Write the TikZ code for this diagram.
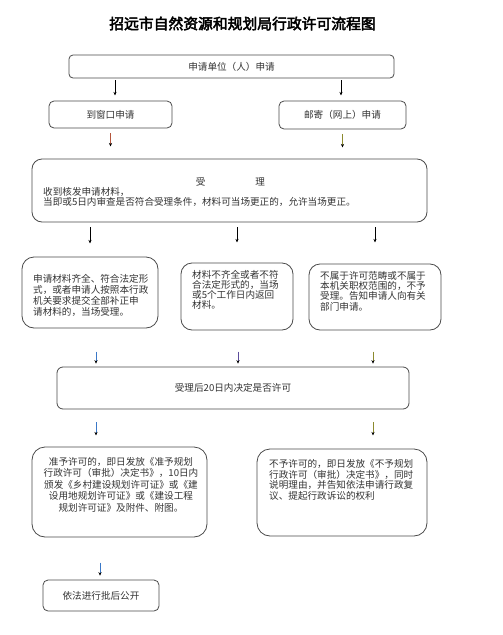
\documentclass[tikz,border=0pt]{standalone}
\usepackage{fontspec}
\setmainfont{Noto Sans CJK SC}
\newfontfamily\titulofont{Noto Sans CJK SC}[FakeBold=3]
\usetikzlibrary{arrows.meta,positioning,calc}
\definecolor{borde}{HTML}{4A4A4A}
\definecolor{texto}{HTML}{333333}
\definecolor{flrojo}{HTML}{B4553C}
\definecolor{flolivo}{HTML}{8C8A2E}
\definecolor{flazul}{HTML}{3A78C8}
\definecolor{flmorado}{HTML}{5C4C9C}
\tikzset{
  caja/.style    = {draw=borde, line width=0.8pt, inner sep=0pt, text=texto,
                    font=\fontsize{9.6}{11}\selectfont},
  parrafo/.style = {inner sep=0pt, align=left, anchor=north west, text=texto},
  flecha/.style  = {-{Stealth[length=3.5pt,width=3.2pt,black]}, line width=0.8pt},
}
\begin{document}
\begin{tikzpicture}[x=1pt, y=-1pt]
  \useasboundingbox[fill=white] (0,0) rectangle (503,635);
  \node[font=\titulofont\fontsize{14.8}{16}\selectfont] (titulo) at (242.5,23.5) {招远市自然资源和规划局行政许可流程图};

  % solicitud
  \node[caja, minimum width=325, minimum height=23, rounded corners=4] (solicitud) at (231.5,66.5) {申请单位（人）申请};
  \node[caja, minimum width=123, minimum height=27, rounded corners=5] (ventanilla) at (110.5,114.5) {到窗口申请};
  \node[caja, minimum width=127, minimum height=28, rounded corners=5] (correo) at (342.5,115) {邮寄（网上）申请};

  % recepcion
  \node[caja, minimum width=395, minimum height=63, rounded corners=10] (recepcion) at (229.5,190.5) {};
  \node[text=texto, font=\fontsize{9.6}{11}\selectfont, inner sep=0pt] (recepciontit) at (230.5,181.7) {受\hspace{5.2em}理};
  \node[parrafo, font=\fontsize{9.6}{10}\selectfont] (recepciontxt) at (43,186.8)
    {收到核发申请材料，\\当即或5日内审查是否符合受理条件，材料可当场更正的，允许当场更正。};

  % resultados de la recepcion
  \node[caja, minimum width=136, minimum height=71, rounded corners=12] (admitido) at (90,292.5) {};
  \node[parrafo, font=\fontsize{9.6}{11}\selectfont] (admitidotxt) at (33,274.1)
    {申请材料齐全、符合法定形\\式，或者申请人按照本行政\\机关要求提交全部补正申\\请材料的，当场受理。};
  \node[caja, minimum width=112, minimum height=67, rounded corners=11] (devuelto) at (237,296.5) {};
  \node[parrafo, font=\fontsize{9.6}{10}\selectfont] (devueltotxt) at (192,270.1)
    {材料不齐全或者不符\\合法定形式的，当场\\或5个工作日内返回\\材料。};
  \node[caja, minimum width=132, minimum height=66, rounded corners=11] (rechazado) at (375,297) {};
  \node[parrafo, font=\fontsize{9.6}{10.3}\selectfont] (rechazadotxt) at (320,271.1)
    {不属于许可范畴或不属于\\本机关职权范围的，不予\\受理。告知申请人向有关\\部门申请。};

  % decision
  \node[caja, minimum width=352, minimum height=42, rounded corners=6] (decision) at (233,388) {受理后20日内决定是否许可};

  \node[caja, minimum width=175, minimum height=90, rounded corners=13] (aprobado) at (119.5,492) {};
  \node[parrafo, anchor=north, align=center, font=\fontsize{9.6}{11.5}\selectfont] (aprobadotxt) at (121,457.1)
    {准予许可的，即日发放《准予规划\\行政许可（审批）决定书》，10日内\\颁发《乡村建设规划许可证》或《建\\设用地规划许可证》或《建设工程\\规划许可证》及附件、附图。};
  \node[caja, minimum width=170, minimum height=87, rounded corners=13] (denegado) at (342,492.5) {};
  \node[parrafo, font=\fontsize{9.6}{10.7}\selectfont] (denegadotxt) at (269,459.1)
    {不予许可的，即日发放《不予规划\\行政许可（审批）决定书》，同时\\说明理由，并告知依法申请行政复\\议、提起行政诉讼的权利};

  \node[caja, minimum width=116, minimum height=31, rounded corners=5] (publico) at (101,595.5) {依法进行批后公开};

  % flechas
  \draw[flecha] ([xshift=4.5pt,yshift=-2pt]ventanilla.north |- solicitud.south) -- ++(0,15);
  \draw[flecha] ([xshift=-1.5pt,yshift=-2pt]correo.north |- solicitud.south) -- ++(0,15);
  \draw[flecha, flrojo] ([yshift=-5pt]ventanilla.south) -- ++(0,13);
  \draw[flecha, flolivo] ([yshift=-5pt]correo.south) -- ++(0,13);
  \foreach \destino/\largo in {admitido/16, devuelto/15, rechazado/15}
    \draw[flecha] ([yshift=-5pt]recepcion.south -| \destino) -- ++(0,\largo);
  \foreach \origen/\dx/\tono in {admitido/6/flazul, devuelto/1/flmorado, rechazado/-2/flolivo}
    \draw[flecha, draw=\tono] ([xshift=\dx pt,yshift=15pt]decision.north -| \origen) -- ([xshift=\dx pt,yshift=3pt]decision.north -| \origen);
  \draw[flecha, flazul] ([xshift=6pt,yshift=-13pt]decision.south -| admitido) -- ++(0,13);
  \draw[flecha, flolivo] ([xshift=-2pt,yshift=-13pt]decision.south -| rechazado) -- ++(0,13);
  \draw[flecha, flazul] ([xshift=-1pt,yshift=17pt]publico.north) -- ([xshift=-1pt,yshift=4pt]publico.north);
\end{tikzpicture}
\end{document}
